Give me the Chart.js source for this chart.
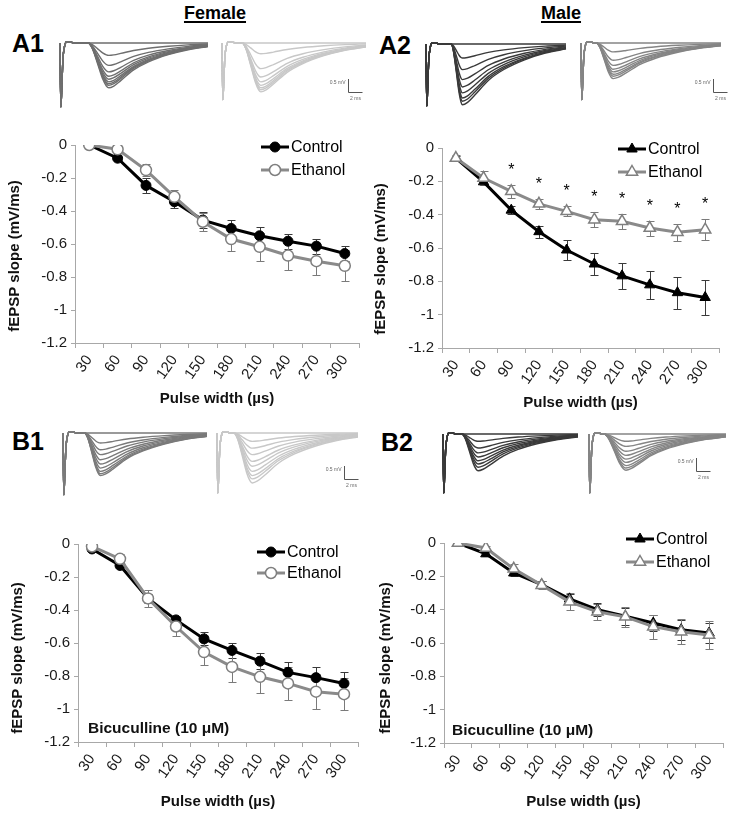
<!DOCTYPE html>
<html>
<head>
<meta charset="utf-8">
<script src="https://cdn.jsdelivr.net/npm/chart.js@4.4.0/dist/chart.umd.min.js"></script>
<style>
  body { margin: 0; background: #fff; }
  #page { position: relative; width: 732px; height: 814px; overflow: hidden; font-family: "Liberation Sans", Arial, sans-serif; }
  #page canvas { position: absolute; }
  .hd { position: absolute; font-weight: bold; color: #000; line-height: 1; white-space: nowrap; }
  .sex { font-size: 18px; width: 100px; text-align: center; text-decoration: underline; text-decoration-thickness: 2px; text-underline-offset: 2px; }
  .lab { font-size: 25px; }
</style>
</head>
<body>
<div id="page">
  <div class="hd sex" style="left:165px; top:4px">Female</div>
  <div class="hd sex" style="left:511px; top:4px">Male</div>
  <div class="hd lab" style="left:12px; top:31px">A1</div>
  <div class="hd lab" style="left:379px; top:33px">A2</div>
  <div class="hd lab" style="left:12px; top:429px">B1</div>
  <div class="hd lab" style="left:381px; top:430px">B2</div>
</div>
<script>
// x categories (pulse width, µs)
const pulseWidths = ['30', '60', '90', '120', '150', '180', '210', '240', '270', '300'];

// A1 female
const a1Control    = [0, -0.08, -0.245, -0.344, -0.455, -0.506, -0.55, -0.583, -0.613, -0.658];
const a1ControlSem = [0, 0.01, 0.045, 0.035, 0.05, 0.05, 0.05, 0.045, 0.045, 0.045];
const a1Ethanol    = [0, -0.026, -0.152, -0.314, -0.465, -0.57, -0.617, -0.67, -0.704, -0.732];
const a1EthanolSem = [0, 0.01, 0.035, 0.04, 0.055, 0.07, 0.085, 0.09, 0.085, 0.095];

// A2 male
const a2Control    = [-0.06, -0.203, -0.373, -0.502, -0.612, -0.696, -0.767, -0.821, -0.868, -0.897];
const a2ControlSem = [0.01, 0.02, 0.025, 0.035, 0.06, 0.068, 0.08, 0.085, 0.097, 0.107];
const a2Ethanol    = [-0.06, -0.18, -0.26, -0.335, -0.38, -0.43, -0.44, -0.48, -0.505, -0.49];
const a2EthanolSem = [0.02, 0.04, 0.04, 0.03, 0.03, 0.045, 0.045, 0.045, 0.05, 0.065];
const a2Significant = [0, 0, 1, 1, 1, 1, 1, 1, 1, 1];

// B1 female + bicuculline
const b1Control    = [-0.03, -0.13, -0.33, -0.46, -0.575, -0.645, -0.71, -0.778, -0.81, -0.845];
const b1ControlSem = [0.005, 0.01, 0.03, 0.02, 0.04, 0.045, 0.05, 0.06, 0.065, 0.07];
const b1Ethanol    = [-0.015, -0.09, -0.33, -0.5, -0.655, -0.745, -0.805, -0.845, -0.895, -0.91];
const b1EthanolSem = [0.005, 0.03, 0.05, 0.06, 0.08, 0.09, 0.095, 0.1, 0.105, 0.095];

// B2 male + bicuculline
const b2Control    = [0, -0.065, -0.18, -0.25, -0.335, -0.40, -0.44, -0.48, -0.52, -0.54];
const b2ControlSem = [0, 0.01, 0.02, 0.02, 0.03, 0.04, 0.05, 0.05, 0.06, 0.06];
const b2Ethanol    = [0, -0.03, -0.155, -0.253, -0.353, -0.413, -0.443, -0.502, -0.532, -0.552];
const b2EthanolSem = [0, 0.01, 0.03, 0.025, 0.05, 0.048, 0.06, 0.073, 0.076, 0.082];

// example trace peak amplitudes (mV), one per stimulus
const a1TraceControl = [0, 0.46, 0.83, 1.07, 1.23, 1.34, 1.44, 1.51, 1.57, 1.66];
const a1TraceEthanol = [0, 0.40, 0.95, 1.26, 1.44, 1.57, 1.66, 1.73, 1.81];
const a2TraceControl = [0, 0.52, 0.95, 1.32, 1.59, 1.81, 2.0, 2.12, 2.25];
const a2TraceEthanol = [0, 0.33, 0.64, 0.83, 0.97, 1.07, 1.16, 1.23, 1.32];
const b1TraceControl = [0, 0.37, 0.62, 0.8, 0.99, 1.15, 1.3, 1.42, 1.51, 1.58];
const b1TraceEthanol = [0, 0.31, 0.56, 0.8, 1.05, 1.23, 1.42, 1.58, 1.7, 1.85];
const b2TraceControl = [0, 0.27, 0.52, 0.7, 0.85, 0.99, 1.11, 1.23, 1.36];
const b2TraceEthanol = [0, 0.27, 0.46, 0.64, 0.79, 0.93, 1.05, 1.17, 1.26, 1.34];

// waveform outline (normalised)
const artifactShape = [[0, 0], [0.006, -1], [0.012, -0.7], [0.02, -0.25], [0.03, -0.06], [0.045, 0.02], [0.07, 0.02], [0.09, 0]];
const epspRise  = [[0, 0], [0.2, -0.12], [0.45, -0.45], [0.7, -0.8], [0.88, -0.96], [1, -1]];
const epspDecay = [[0.05, -0.96], [0.12, -0.84], [0.25, -0.6], [0.4, -0.42], [0.6, -0.26], [0.8, -0.15], [1, -0.08]];

Chart.defaults.font.family = '"Liberation Sans", Arial, sans-serif';
Chart.defaults.animation = false;

const page = document.getElementById('page');
function addCanvas(left, top, w, h) {
  const c = document.createElement('canvas');
  c.width = w; c.height = h;
  c.style.left = left + 'px'; c.style.top = top + 'px';
  c.style.width = w + 'px'; c.style.height = h + 'px';
  page.appendChild(c);
  return c;
}

// ---------- trace insets ----------
const PX_MS = 7, PX_MV = 27;

const scaleBar = {
  id: 'scaleBar',
  afterDraw(chart, args, o) {
    if (o.x == null) return;
    const {ctx, scales: {x, y}} = chart;
    const h = y.getPixelForValue(0) - y.getPixelForValue(0.5);
    const w = x.getPixelForValue(2) - x.getPixelForValue(0);
    const bx = Math.round(o.x) + 0.5, by = Math.round(o.y) + 0.5;
    ctx.save();
    ctx.strokeStyle = '#555'; ctx.lineWidth = 1;
    ctx.beginPath();
    ctx.moveTo(bx, by - h); ctx.lineTo(bx, by); ctx.lineTo(bx + w, by);
    ctx.stroke();
    ctx.fillStyle = '#666'; ctx.font = '5px "Liberation Sans", Arial';
    ctx.textAlign = 'right'; ctx.textBaseline = 'middle';
    ctx.fillText('0.5 mV', bx - 3, by - h + 4);
    ctx.textAlign = 'center';
    ctx.fillText('2 ms', bx + w / 2, by + 6);
    ctx.restore();
  }
};

function tracePoints(depth, p) {
  const dur = p.w / PX_MS;
  const pts = artifactShape.map(([t, v]) => ({x: t * dur, y: v * p.art}));
  epspRise.forEach(([u, v]) => pts.push({x: (p.onset + u * (p.peak - p.onset)) * dur, y: v * depth}));
  epspDecay.forEach(([s, v]) => pts.push({x: (p.peak + s * (1 - p.peak)) * dur, y: v * depth}));
  return pts;
}

const tracePanels = [
  {x: 60,  base: 43,  w: 148, color: '#6e6e6e', depths: a1TraceControl, art: 2.37, onset: 0.19, peak: 0.33},
  {x: 222, base: 43,  w: 144, color: '#c8c8c8', depths: a1TraceEthanol, art: 2.1,  onset: 0.14, peak: 0.27, bar: {x: 348, y: 92}},
  {x: 426, base: 44,  w: 140, color: '#3a3a3a', depths: a2TraceControl, art: 2.3,  onset: 0.18, peak: 0.26},
  {x: 581, base: 43,  w: 140, color: '#858585', depths: a2TraceEthanol, art: 2.1,  onset: 0.11, peak: 0.23, bar: {x: 713, y: 92}},
  {x: 63,  base: 433, w: 144, color: '#7a7a7a', depths: b1TraceControl, art: 2.29, onset: 0.15, peak: 0.26},
  {x: 217, base: 433, w: 141, color: '#c8c8c8', depths: b1TraceEthanol, art: 2.22, onset: 0.12, peak: 0.25, bar: {x: 344, y: 479}},
  {x: 443, base: 434, w: 135, color: '#3a3a3a', depths: b2TraceControl, art: 2.19, onset: 0.14, peak: 0.26},
  {x: 589, base: 434, w: 137, color: '#858585', depths: b2TraceEthanol, art: 2.19, onset: 0.11, peak: 0.27, bar: {x: 696, y: 471}}
];

tracePanels.forEach(p => {
  const left = p.x - 1, top = p.base - 8;
  let cw = p.w + 2;
  if (p.bar) cw = Math.min(Math.max(cw, p.bar.x + 16 - left), 732 - left);
  const ch = Math.round(p.art * PX_MV + 16);
  const cv = addCanvas(left, top, cw, ch);
  new Chart(cv, {
    type: 'line',
    data: {
      datasets: p.depths.map(d => ({
        data: tracePoints(d, p),
        borderColor: p.color, borderWidth: 1.4, pointRadius: 0,
        cubicInterpolationMode: 'monotone'
      }))
    },
    options: {
      responsive: false, animation: false, events: [],
      layout: {padding: 0},
      plugins: {
        legend: {display: false}, tooltip: {enabled: false},
        scaleBar: p.bar ? {x: p.bar.x - left, y: p.bar.y - top} : {}
      },
      scales: {
        x: {type: 'linear', display: false, min: -1 / PX_MS, max: (cw - 1) / PX_MS},
        y: {type: 'linear', display: false, min: -(ch - 8) / PX_MV, max: 8 / PX_MV}
      }
    },
    plugins: [scaleBar]
  });
});

// ---------- slope plots ----------
const axisGray = '#a8a8a8';

const errorBars = {
  id: 'errorBars',
  beforeDatasetsDraw(chart) {
    const {ctx, scales: {y}} = chart;
    chart.data.datasets.forEach((ds, i) => {
      if (!ds.errors) return;
      const meta = chart.getDatasetMeta(i);
      ctx.save();
      ctx.strokeStyle = ds.errorColor; ctx.lineWidth = 1;
      ctx.beginPath();
      meta.data.forEach((pt, j) => {
        const e = ds.errors[j];
        if (!e) return;
        const x = Math.round(pt.x) + 0.5;
        const t = Math.round(y.getPixelForValue(ds.data[j] + e)) + 0.5;
        const b = Math.round(y.getPixelForValue(ds.data[j] - e)) + 0.5;
        ctx.moveTo(x, t); ctx.lineTo(x, b);
        ctx.moveTo(x - 4, t); ctx.lineTo(x + 4, t);
        ctx.moveTo(x - 4, b); ctx.lineTo(x + 4, b);
      });
      ctx.stroke();
      ctx.restore();
    });
  }
};

function marker(ctx, style, x, y, r) {
  ctx.beginPath();
  if (style === 'triangle') {
    ctx.moveTo(x, y - r);
    ctx.lineTo(x + 0.866 * r, y + 0.5 * r);
    ctx.lineTo(x - 0.866 * r, y + 0.5 * r);
    ctx.closePath();
  } else {
    ctx.arc(x, y, r, 0, Math.PI * 2);
  }
}

const cornerLegend = {
  id: 'cornerLegend',
  afterDraw(chart, args, o) {
    const {ctx, chartArea} = chart;
    const x0 = chartArea.right - o.right;
    chart.data.datasets.forEach((ds, i) => {
      const yy = chartArea.top + o.top + i * o.gap;
      ctx.save();
      ctx.strokeStyle = ds.borderColor; ctx.lineWidth = ds.borderWidth;
      ctx.beginPath(); ctx.moveTo(x0, yy); ctx.lineTo(x0 + 28, yy); ctx.stroke();
      marker(ctx, ds.pointStyle, x0 + 14, yy, ds.pointRadius);
      ctx.fillStyle = ds.pointBackgroundColor; ctx.fill();
      ctx.lineWidth = ds.pointBorderWidth; ctx.strokeStyle = ds.pointBorderColor; ctx.stroke();
      ctx.fillStyle = '#000'; ctx.font = '16px "Liberation Sans", Arial';
      ctx.textAlign = 'left'; ctx.textBaseline = 'middle';
      ctx.fillText(ds.label, x0 + 30, yy + 1);
      ctx.restore();
    });
  }
};

const extras = {
  id: 'extras',
  afterDraw(chart, args, o) {
    const {ctx, chartArea, scales: {x, y}} = chart;
    ctx.save();
    // y-axis title
    ctx.translate(o.titleX, (chartArea.top + chartArea.bottom) / 2 + o.titleDy);
    ctx.rotate(-Math.PI / 2);
    ctx.fillStyle = '#111'; ctx.font = 'bold 15px "Liberation Sans", Arial';
    ctx.textAlign = 'center'; ctx.textBaseline = 'middle';
    ctx.fillText('fEPSP slope (mV/ms)', 0, 0);
    ctx.restore();
    if (o.note) {
      ctx.save();
      ctx.fillStyle = '#111'; ctx.font = 'bold 15.5px "Liberation Sans", Arial';
      ctx.textAlign = 'left'; ctx.textBaseline = 'middle';
      ctx.fillText(o.note, chartArea.left + o.noteDx, chartArea.bottom - o.noteDy);
      ctx.restore();
    }
    if (o.stars) {
      const eth = chart.data.datasets[1];
      ctx.save();
      ctx.fillStyle = '#000'; ctx.font = '16px "Liberation Sans", Arial';
      ctx.textAlign = 'center'; ctx.textBaseline = 'alphabetic';
      o.stars.forEach((s, j) => {
        if (!s) return;
        const top = y.getPixelForValue(eth.data[j] + eth.errors[j]);
        ctx.fillText('*', x.getPixelForValue(j), top - 19 + 9);
      });
      ctx.restore();
    }
  }
};

function makePlot(o) {
  const cv = addCanvas(o.left, o.top, 366, o.h);
  const tri = o.marker === 'triangle';
  new Chart(cv, {
    type: 'line',
    data: {
      labels: pulseWidths,
      datasets: [
        {label: 'Control', data: o.control, errors: o.controlSem, errorColor: '#3a3a3a',
         borderColor: '#000', borderWidth: 3, tension: 0, order: 2,
         pointStyle: o.marker, pointRadius: tri ? 6 : 5, pointBackgroundColor: '#000',
         pointBorderColor: '#000', pointBorderWidth: 1},
        {label: 'Ethanol', data: o.ethanol, errors: o.ethanolSem, errorColor: '#7a7a7a',
         borderColor: '#8a8a8a', borderWidth: 3, tension: 0, order: 1,
         pointStyle: o.marker, pointRadius: tri ? 6.5 : 5.5, pointBackgroundColor: '#fff',
         pointBorderColor: '#7f7f7f', pointBorderWidth: 1.5}
      ]
    },
    options: {
      responsive: false, animation: false, events: [],
      layout: {padding: {top: o.padTop, right: o.padRight, left: 0, bottom: 0}},
      plugins: {
        legend: {display: false}, tooltip: {enabled: false},
        cornerLegend: o.legend,
        extras: {titleX: o.titleX, titleDy: o.titleDy, note: o.note, noteDx: o.noteDx, noteDy: o.noteDy, stars: o.stars}
      },
      scales: {
        x: {
          offset: true,
          grid: {offset: true, drawOnChartArea: false, tickLength: 5, color: axisGray},
          border: {color: axisGray},
          ticks: {minRotation: 55, maxRotation: 55, autoSkip: false, padding: 4, color: '#1a1a1a', font: {size: 15}},
          title: {display: true, text: 'Pulse width (µs)', color: '#111', font: {size: 15, weight: 'bold'},
                  padding: {top: 0, bottom: o.xTitlePad}},
          afterFit: s => { s.height = o.xH; }
        },
        y: {
          min: -1.2, max: 0,
          grid: {drawOnChartArea: false, tickLength: 4, color: axisGray},
          border: {color: axisGray},
          ticks: {stepSize: 0.2, padding: 4, color: '#1a1a1a', font: {size: 15},
                  callback: v => String(Math.round(v * 10) / 10)},
          afterFit: s => { s.width = o.yW; }
        }
      }
    },
    plugins: [errorBars, cornerLegend, extras]
  });
}

makePlot({left: 0, top: 120, h: 300, padTop: 25, padRight: 5, yW: 75, xH: 77, xTitlePad: 12,
  titleX: 15, titleDy: 12, marker: 'circle',
  control: a1Control, controlSem: a1ControlSem, ethanol: a1Ethanol, ethanolSem: a1EthanolSem,
  legend: {right: 98, top: 2, gap: 23}});

makePlot({left: 366, top: 120, h: 300, padTop: 28, padRight: 13, yW: 76, xH: 72, xTitlePad: 8,
  titleX: 15, titleDy: 11, marker: 'triangle', stars: a2Significant,
  control: a2Control, controlSem: a2ControlSem, ethanol: a2Ethanol, ethanolSem: a2EthanolSem,
  legend: {right: 101, top: 1, gap: 23}});

makePlot({left: 0, top: 520, h: 294, padTop: 24, padRight: 8, yW: 78, xH: 72, xTitlePad: 3,
  titleX: 18, titleDy: 15, marker: 'circle', note: 'Bicuculline (10 μM)', noteDx: 10, noteDy: 13,
  control: b1Control, controlSem: b1ControlSem, ethanol: b1Ethanol, ethanolSem: b1EthanolSem,
  legend: {right: 101, top: 8, gap: 21}});

makePlot({left: 366, top: 520, h: 294, padTop: 23, padRight: 9, yW: 78, xH: 71, xTitlePad: 3,
  titleX: 20, titleDy: 15, marker: 'triangle', note: 'Bicuculline (10 μM)', noteDx: 8, noteDy: 12,
  control: b2Control, controlSem: b2ControlSem, ethanol: b2Ethanol, ethanolSem: b2EthanolSem,
  legend: {right: 97, top: -4, gap: 23}});
</script>
</body>
</html>
